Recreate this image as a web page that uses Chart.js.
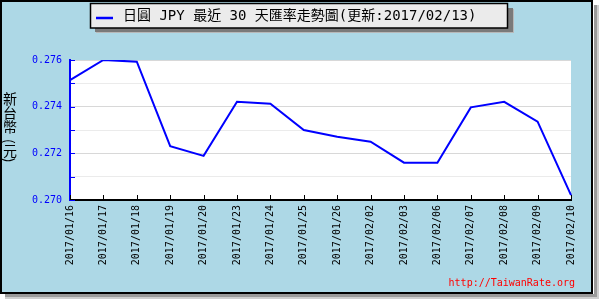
<!DOCTYPE html>
<html>
<head>
<meta charset="utf-8">
<script src="https://cdn.jsdelivr.net/npm/chart.js@4/dist/chart.umd.min.js"></script>
<style>
  html, body { margin: 0; padding: 0; background: #ffffff; }
  #wrap { position: relative; width: 600px; height: 300px; }
  #ytitle {
    position: absolute; left: 3px; top: 92px;
    writing-mode: vertical-rl; text-orientation: mixed;
    font: 14px 'Noto Sans CJK TC', sans-serif; line-height: 14px;
    color: #000000; white-space: nowrap;
  }
  #ytitle span { padding-inline-start: 5px; }
</style>
</head>
<body>
<div id="wrap"><canvas id="c" width="600" height="300"></canvas><div id="ytitle"></div></div>
<script>
const categories = ['2017/01/16','2017/01/17','2017/01/18','2017/01/19','2017/01/20','2017/01/23','2017/01/24','2017/01/25','2017/01/26','2017/02/02','2017/02/03','2017/02/06','2017/02/07','2017/02/08','2017/02/09','2017/02/10'];
const jpyRates = [0.27514, 0.27600, 0.27593, 0.27231, 0.27189, 0.27421, 0.27413, 0.27300, 0.27271, 0.27250, 0.27160, 0.27160, 0.27397, 0.27421, 0.27336, 0.27021];
const yTickValues = [0.270, 0.271, 0.272, 0.273, 0.274, 0.275, 0.276];
const yLabelValues = [0.270, 0.272, 0.274, 0.276];
const titleText = '日圓 JPY 最近 30 天匯率走勢圖(更新:2017/02/13)';
const yTitleMain = '新台幣';
const yTitleUnit = '(元)';
const watermarkText = 'http://TaiwanRate.org';

const yt = document.getElementById('ytitle');
yt.appendChild(document.createTextNode(yTitleMain));
const unitSpan = document.createElement('span');
unitSpan.textContent = yTitleUnit;
yt.appendChild(unitSpan);

const MONO = "'DejaVu Sans Mono', monospace";

const framePlugin = {
  id: 'frame',
  beforeDraw(chart) {
    const ctx = chart.ctx;
    const W = chart.width, H = chart.height;
    ctx.save();
    ctx.fillStyle = '#ffffff';
    ctx.fillRect(0, 0, W, H);
    ctx.fillStyle = '#9a9a9a';
    ctx.fillRect(594, 5, 3, 292);
    ctx.fillRect(5, 294, 592, 3);
    ctx.fillStyle = '#cfcfcf';
    ctx.fillRect(597, 5, 2, 293);
    ctx.fillRect(5, 297, 594, 2);
    ctx.fillStyle = '#add8e6';
    ctx.fillRect(0, 0, 593, 294);
    ctx.strokeStyle = '#000000';
    ctx.lineWidth = 2;
    ctx.strokeRect(1, 1, 591, 292);
    const a = chart.chartArea;
    ctx.fillStyle = '#ffffff';
    ctx.fillRect(a.left, a.top, a.right - a.left, a.bottom - a.top);
    ctx.restore();
  },
  afterDatasetsDraw(chart) {
    const ctx = chart.ctx;
    const a = chart.chartArea;
    const xs = chart.scales.x, ys = chart.scales.y;
    ctx.save();
    ctx.lineWidth = 1;
    ctx.strokeStyle = '#0000ff';
    ys.ticks.forEach(t => {
      const py = Math.round(ys.getPixelForValue(t.value)) + 0.5;
      ctx.beginPath(); ctx.moveTo(a.left, py); ctx.lineTo(a.left + 5, py); ctx.stroke();
    });
    ctx.strokeStyle = '#000000';
    categories.forEach((c, i) => {
      const px = Math.round(xs.getPixelForValue(i)) + 0.5;
      ctx.beginPath(); ctx.moveTo(px, a.bottom); ctx.lineTo(px, a.bottom - 5); ctx.stroke();
    });

    // title box with shadow
    ctx.fillStyle = '#7a7a7a';
    ctx.fillRect(95, 28, 418, 4);
    ctx.fillRect(508, 8, 5, 24);
    ctx.fillStyle = '#b8b8b8';
    ctx.fillRect(96, 32, 418, 1);
    ctx.fillRect(513, 9, 1, 24);
    ctx.fillStyle = '#ebebeb';
    ctx.fillRect(90, 3, 418, 25);
    ctx.strokeStyle = '#000000';
    ctx.lineWidth = 1.5;
    ctx.strokeRect(90.5, 3.5, 417, 24.5);
    ctx.strokeStyle = '#0000ff';
    ctx.lineWidth = 2.5;
    ctx.beginPath(); ctx.moveTo(96, 18); ctx.lineTo(113, 18); ctx.stroke();
    ctx.fillStyle = '#000000';
    ctx.font = "14px 'DejaVu Sans Mono', 'Noto Sans CJK TC', sans-serif";
    ctx.textAlign = 'left';
    ctx.textBaseline = 'middle';
    ctx.fillText(titleText, 123, 16);

    ctx.fillStyle = '#ff0000';
    ctx.font = "10px " + MONO;
    ctx.textAlign = 'right';
    ctx.textBaseline = 'middle';
    ctx.fillText(watermarkText, 575, 283);
    ctx.restore();
  }
};

new Chart(document.getElementById('c'), {
  type: 'line',
  data: {
    labels: categories,
    datasets: [{
      label: 'JPY',
      data: jpyRates,
      borderColor: '#0000ff',
      borderWidth: 2,
      pointRadius: 0,
      tension: 0,
      fill: false
    }]
  },
  options: {
    responsive: false,
    animation: false,
    devicePixelRatio: 1,
    layout: { padding: { top: 60, right: 29, left: 0, bottom: 0 } },
    plugins: { legend: { display: false }, tooltip: { enabled: false }, title: { display: false } },
    scales: {
      x: {
        type: 'category',
        offset: false,
        grid: { display: false, drawTicks: false },
        border: { display: true, color: '#000000', width: 2 },
        ticks: {
          autoSkip: false,
          minRotation: 90,
          maxRotation: 90,
          padding: 5,
          color: '#000000',
          font: { family: MONO, size: 10 }
        },
        afterFit(s) { s.height = 100; }
      },
      y: {
        min: 0.270,
        max: 0.276,
        afterBuildTicks(s) { s.ticks = yTickValues.map(v => ({ value: v })); },
        grid: {
          drawTicks: false,
          color(ctx) {
            const v = ctx.tick ? ctx.tick.value : 0;
            return yLabelValues.some(l => Math.abs(l - v) < 1e-7) ? '#d8d8d8' : '#ebebeb';
          },
          lineWidth: 1
        },
        border: { display: true, color: '#0000ff', width: 2 },
        ticks: {
          padding: 8,
          color: '#0000ff',
          font: { family: MONO, size: 10 },
          callback(v) {
            return yLabelValues.some(l => Math.abs(l - v) < 1e-7) ? Number(v).toFixed(3) : '';
          }
        },
        afterFit(s) { s.width = 70; }
      }
    }
  },
  plugins: [framePlugin]
});
</script>
</body>
</html>
